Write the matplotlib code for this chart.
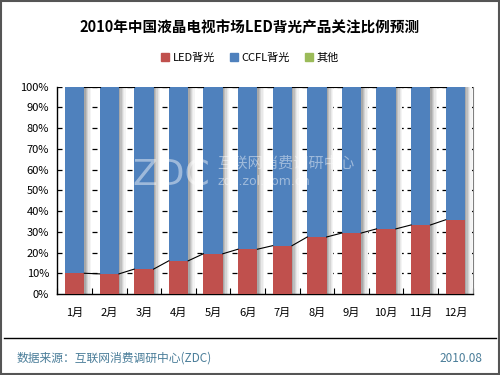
import matplotlib.pyplot as plt
import numpy as np
from matplotlib.patches import Rectangle
from matplotlib.lines import Line2D

plt.rcParams['font.family'] = ['Noto Sans CJK SC', 'DejaVu Sans']

months = ['1月', '2月', '3月', '4月', '5月', '6月', '7月', '8月', '9月', '10月', '11月', '12月']
led = np.array([10.0, 9.7, 12.0, 16.0, 19.4, 21.6, 23.3, 27.5, 29.4, 31.4, 33.3, 35.8])
other = np.array([0.4] * 12)
ccfl = 100 - led - other

red = '#c0504d'
blue = '#4f81bd'
green = '#9bbb59'

fig = plt.figure(figsize=(5, 3.75), dpi=100)
ax = fig.add_axes([0.1147, 0.216, 0.8307, 0.553])

x = np.arange(len(months))
w = 0.56

# gridlines
for v in range(10, 101, 10):
    ax.axhline(v, color='black', lw=0.9, ls=(0, (4, 3)), zorder=1)

# shadow behind the bars
shades = ['#a8a8a8', '#bebebe', '#d4d4d4', '#e8e8e8', '#f4f4f4']
sw = 0.038
for k, c in enumerate(shades):
    ax.bar(x + w / 2 + sw * (k + 0.5), 100, width=sw, color=c, zorder=2, linewidth=0)

ax.bar(x, led, width=w, color=red, zorder=3, linewidth=0, label='LED背光')
ax.bar(x, ccfl, width=w, bottom=led, color=blue, zorder=3, linewidth=0, label='CCFL背光')
ax.bar(x, other, width=w, bottom=led + ccfl, color=green, zorder=3, linewidth=0, label='其他')

# series lines
for level in [led, led + ccfl]:
    for i in range(len(x) - 1):
        ax.plot([x[i] + w / 2, x[i + 1] - w / 2], [level[i], level[i + 1]],
                color='black', lw=0.8, zorder=4)

ax.set_xlim(-0.5, 11.5)
ax.set_ylim(0, 100)
ax.set_yticks(range(0, 101, 10))
ax.set_yticklabels([f'{v}%' for v in range(0, 101, 10)], fontsize=8)
ax.tick_params(axis='y', length=0, pad=6)
ax.set_xticks(x)
ax.set_xticklabels(months, fontsize=8)
ax.tick_params(axis='x', length=0, pad=10)
ax.set_xticks(np.arange(-0.5, 12, 1), minor=True)
ax.tick_params(axis='x', which='minor', length=4, width=0.8, direction='in')
ax.spines['top'].set_visible(False)
ax.spines['right'].set_color('#808080')
for s in ['left', 'bottom']:
    ax.spines[s].set_color('black')
    ax.spines[s].set_linewidth(1.0)

# watermark
fig.text(0.265, 0.535, 'ZDC', fontsize=26, color='white', alpha=0.45,
         ha='left', va='center', family='DejaVu Sans', zorder=10)
fig.text(0.434, 0.565, '互联网消费调研中心', fontsize=11, color='white', alpha=0.45,
         ha='left', va='center', zorder=10)
fig.text(0.434, 0.517, 'zdc.zol.com.cn', fontsize=9, color='white', alpha=0.45,
         ha='left', va='center', family='DejaVu Sans', zorder=10)

fig.text(0.5, 0.928, '2010年中国液晶电视市场LED背光产品关注比例预测', fontsize=10.5,
         fontweight='bold', ha='center', va='center')

handles = [Rectangle((0, 0), 1, 1, color=c) for c in [red, blue, green]]
fig.legend(handles, ['LED背光', 'CCFL背光', '其他'], loc='center', bbox_to_anchor=(0.5, 0.845),
           ncol=3, frameon=False, fontsize=8, handlelength=0.7, handleheight=0.7,
           handletextpad=0.3, columnspacing=1.4)

fig.add_artist(Line2D([0.008, 0.992], [0.099, 0.099], color='black', lw=1,
                      transform=fig.transFigure))
fig.text(0.034, 0.045, '数据来源：互联网消费调研中心(ZDC)', fontsize=8.5, color='#4a7d99',
         ha='left', va='center')
fig.text(0.965, 0.045, '2010.08', fontsize=8.5, color='#4a7d99', ha='right', va='center')

fig.add_artist(Rectangle((0.002, 0.003), 0.996, 0.994, fill=False, edgecolor='#555555',
                         lw=1.5, transform=fig.transFigure))

fig.savefig('out.png', dpi=100)
